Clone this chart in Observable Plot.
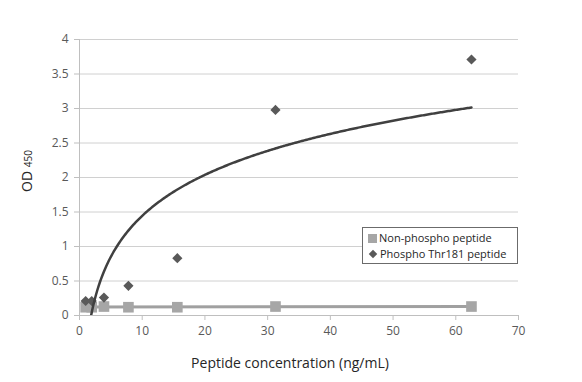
<!DOCTYPE html>
<html><head><meta charset="utf-8">
<script src="https://cdn.jsdelivr.net/npm/d3@7"></script>
<script src="https://cdn.jsdelivr.net/npm/@observablehq/plot@0.6"></script>
<style>
body{margin:0;background:#fff;}
#wrap{position:relative;width:582px;height:382px;font-family:"Open Sans",sans-serif;}
.legend{position:absolute;left:362px;top:227px;width:156px;height:37px;border:1px solid #6b6b6b;background:#fff;font-size:11px;color:#262626;box-sizing:border-box;}
.row{position:absolute;left:5px;height:14px;line-height:14px;white-space:nowrap;}
.sq{display:inline-block;width:9px;height:9px;background:#a6a6a6;vertical-align:-1px;margin-right:2px;}
.dm{display:inline-block;width:6px;height:6px;background:#595959;transform:rotate(45deg);vertical-align:1px;margin:0 4px 0 2px;}
</style></head><body><div id="wrap"></div>
<script>
const concentrations = [0.98, 1.95, 3.9, 7.8, 15.6, 31.25, 62.5];
const phosphoOD = [0.21, 0.21, 0.26, 0.43, 0.83, 2.98, 3.71];
const nonPhosphoOD = [0.12, 0.12, 0.13, 0.12, 0.12, 0.13, 0.13];
const xTicks = [0, 10, 20, 30, 40, 50, 60, 70];
const yTicks = [0, 0.5, 1, 1.5, 2, 2.5, 3, 3.5, 4];
const seriesNames = ["Non-phospho peptide", "Phospho Thr181 peptide"];

const phospho = concentrations.map((c, i) => ({x: c, y: phosphoOD[i]}));
const nonPhospho = concentrations.map((c, i) => ({x: c, y: nonPhosphoOD[i]}));

// Least-squares trendlines computed from the data (log fit and linear fit)
function fit(pts, tx) {
  const xs = pts.map(p => tx(p.x)), ys = pts.map(p => p.y);
  const mx = d3.mean(xs), my = d3.mean(ys);
  const a = d3.sum(xs, (v, i) => (v - mx) * (ys[i] - my)) / d3.sum(xs, v => (v - mx) ** 2);
  return {a, b: my - a * mx};
}
const lf = fit(phospho, Math.log);
const xmin = d3.min(concentrations), xmax = d3.max(concentrations);
const logCurve = d3.range(0, 301).map(i => {
  const x = xmin + (xmax - xmin) * i / 300;
  return {x, y: lf.a * Math.log(x) + lf.b};
});
const linf = fit(nonPhospho, v => v);
const linLine = [xmin, xmax].map(x => ({x, y: linf.a * x + linf.b}));

const plot = Plot.plot({
  width: 582, height: 382,
  marginLeft: 79, marginRight: 64, marginTop: 39, marginBottom: 67,
  style: {fontFamily: "'Open Sans', sans-serif", fontSize: "12px", color: "#595959", background: "#fff"},
  x: {domain: [0, 70], label: null},
  y: {domain: [0, 4], label: null},
  marks: [
    Plot.gridY(yTicks, {stroke: "#d0d0d0", strokeOpacity: 1}),
    Plot.axisY(yTicks, {tickSize: 5, tickPadding: 6, stroke: "#bfbfbf", tickFormat: d => String(d), label: null}),
    Plot.axisX(xTicks, {tickSize: 5, tickPadding: 6, stroke: "#bfbfbf", tickFormat: d => String(d), label: null}),
    Plot.ruleX([0], {stroke: "#bfbfbf"}),
    Plot.ruleY([0], {stroke: "#bfbfbf"}),
    Plot.line(linLine, {x: "x", y: "y", stroke: "#a0a0a0", strokeWidth: 3}),
    Plot.dot(nonPhospho, {x: "x", y: "y", symbol: "square", r: 6, fill: "#a6a6a6", stroke: "none"}),
    Plot.dot(phospho, {x: "x", y: "y", symbol: "diamond2", r: 4.6, fill: "#595959", stroke: "none"}),
    Plot.line(logCurve, {x: "x", y: "y", stroke: "#404040", strokeWidth: 2.5, clip: true})
  ]
});

const svg = d3.select(plot);
svg.append("text")
  .attr("x", 290).attr("y", 368)
  .attr("text-anchor", "middle")
  .attr("fill", "#262626")
  .style("font-size", "14px")
  .text("Peptide concentration (ng/mL)");
const yl = svg.append("text")
  .attr("transform", "translate(32,171) rotate(-90)")
  .attr("text-anchor", "middle")
  .attr("fill", "#262626")
  .style("font-size", "14px");
yl.append("tspan").text("OD ");
yl.append("tspan").style("font-size", "10px").text("450");

const wrap = document.getElementById("wrap");
wrap.appendChild(plot);
const lg = document.createElement("div");
lg.className = "legend";
lg.innerHTML = `<div class="row" style="top:3px"><span class="sq"></span>${seriesNames[0]}</div>` +
  `<div class="row" style="top:19px"><span class="dm"></span>${seriesNames[1]}</div>`;
wrap.appendChild(lg);
</script>
</body></html>
